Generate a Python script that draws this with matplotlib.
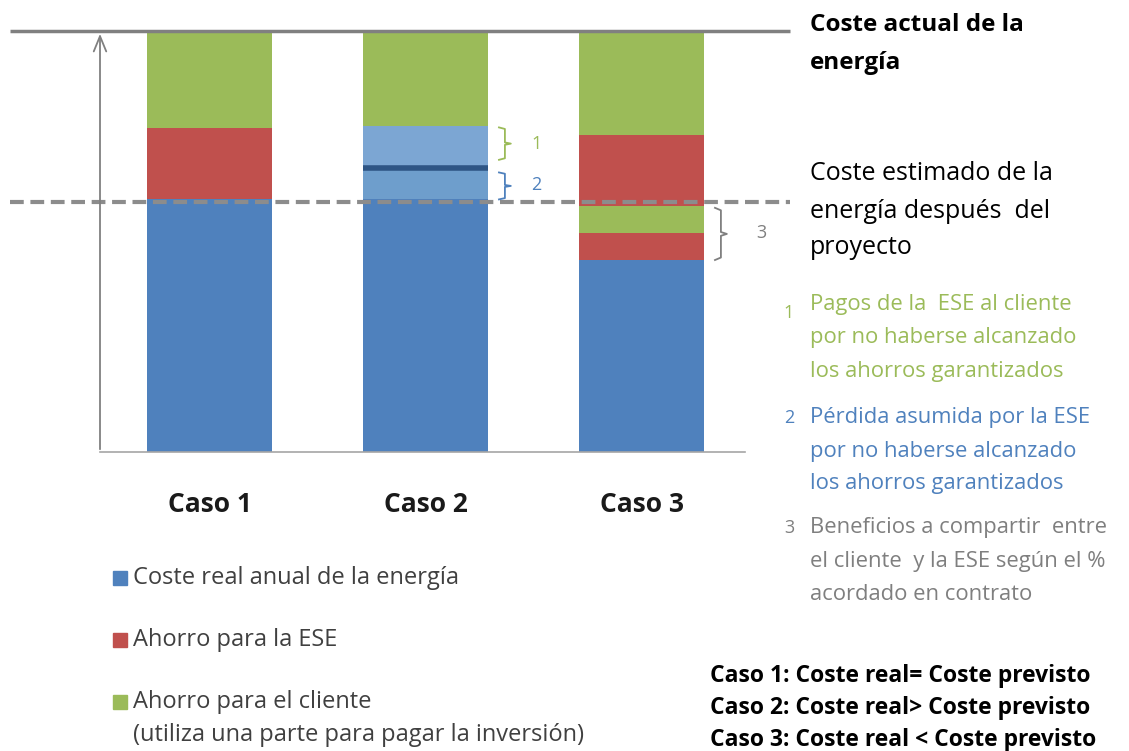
import matplotlib
matplotlib.use("Agg")
import matplotlib.pyplot as plt
from matplotlib.patches import Rectangle

plt.rcParams['font.family'] = ['Open Sans', 'DejaVu Sans']

# data (cost as % of current energy cost)
cases = ["Caso 1", "Caso 2", "Caso 3"]
caso1_vals = [60.0, 17.0, 23.0]
caso1_kind = ["real", "ese", "cliente"]
caso2_vals = [60.0, 7.4, 10.0, 22.6]
caso2_kind = ["real", "perdida", "pagos", "cliente"]
caso3_vals = [45.6, 6.4, 6.4, 17.0, 24.6]
caso3_kind = ["real", "ese", "cliente", "ese", "cliente"]
coste_actual = 100.0
coste_estimado = 59.3

legend_labels = ["Coste real anual de la energía", "Ahorro para la ESE",
                 "Ahorro para el cliente\n(utiliza una parte para pagar la inversión)"]
titulo_actual = ["Coste actual de la", "energía"]
titulo_estimado = ["Coste estimado de la", "energía después  del", "proyecto"]
nota1 = ["Pagos de la  ESE al cliente", "por no haberse alcanzado", "los ahorros garantizados"]
nota2 = ["Pérdida asumida por la ESE", "por no haberse alcanzado", "los ahorros garantizados"]
nota3 = ["Beneficios a compartir  entre", "el cliente  y la ESE según el %", "acordado en contrato"]
resumen = ["Caso 1: Coste real= Coste previsto",
           "Caso 2: Coste real> Coste previsto",
           "Caso 3: Coste real < Coste previsto"]

colors = {"real": "#4F81BD", "ese": "#C0504D", "cliente": "#9BBB59",
          "perdida": "#6E9ECC", "pagos": "#7CA6D3"}
GREEN_T = "#9BBB59"
BLUE_T = "#4F81BD"
GRAY_T = "#7F7F7F"

W, H = 1129, 751
fig = plt.figure(figsize=(W / 100, H / 100), dpi=100)
fig.patch.set_facecolor("white")


def fx(px):
    return px / W


def fy(py):
    return 1 - py / H


ax = fig.add_axes([fx(100), fy(452), (745 - 100) / W, (452 - 31) / H])
ax.set_xlim(-0.507, 2.479)
ax.set_ylim(0, coste_actual)
bw = 0.58

stacks = [(caso1_vals, caso1_kind), (caso2_vals, caso2_kind), (caso3_vals, caso3_kind)]
tops = []
for i, (vals, kinds) in enumerate(stacks):
    bottom = 0
    bounds = [0]
    for v, k in zip(vals, kinds):
        ax.bar(i, v, bottom=bottom, width=bw, color=colors[k], linewidth=0, zorder=2)
        bottom += v
        bounds.append(bottom)
    tops.append(bounds)

# dark line marking estimated cost in caso 2
ax.hlines(tops[1][2], 1 - bw / 2, 1 + bw / 2, color="#2E5585", lw=4, zorder=3)

# reference lines
ax.hlines(coste_actual, -0.924, 2.688, color="#808080", lw=2.5, clip_on=False, zorder=4)
ax.hlines(coste_estimado, -0.924, 2.688, color="#8C8C8C", lw=3,
          linestyles=(0, (3.3, 1.6)), clip_on=False, zorder=4)

for s in ["top", "right", "left"]:
    ax.spines[s].set_visible(False)
ax.spines["bottom"].set_color("#A6A6A6")
ax.spines["bottom"].set_linewidth(1.2)
ax.annotate("", xy=(0, 1), xytext=(0, 0), xycoords="axes fraction",
            arrowprops=dict(arrowstyle="->,head_length=1.1,head_width=0.45",
                            color="#808080", lw=1.3), zorder=5)
ax.set_yticks([])
ax.set_xticks(range(len(cases)))
ax.set_xticklabels(cases, fontsize=19, fontweight="bold", color="#1a1a1a")
ax.tick_params(axis="x", length=0, pad=28)


def brace(x, y0, y1, color, w=0.055):
    ym = (y0 + y1) / 2
    h = (y1 - y0) * 0.12
    xs = [x, x + w * 0.5, x + w * 0.5, x + w, x + w * 0.5, x + w * 0.5, x]
    ys = [y1, y1 - h * 0.4, ym + h * 0.3, ym, ym - h * 0.3, y0 + h * 0.4, y0]
    ax.plot(xs, ys, color=color, lw=1.3, clip_on=False, zorder=5)


brace(1 + bw / 2 + 0.05, tops[1][3] - 8.0, tops[1][3] - 0.3, GREEN_T)
brace(1 + bw / 2 + 0.05, tops[1][1], tops[1][2] - 1.0, BLUE_T)
brace(2 + bw / 2 + 0.05, tops[2][1], tops[2][3] - 0.4, GRAY_T)
ax.text(1 + bw / 2 + 0.2, tops[1][3] - 4.3, "1", color=GREEN_T, fontsize=13, va="center")
ax.text(1 + bw / 2 + 0.2, tops[1][1] + 3.4, "2", color=BLUE_T, fontsize=13, va="center")
ax.text(2 + bw / 2 + 0.24, (tops[2][1] + tops[2][3]) / 2, "3", color=GRAY_T, fontsize=13, va="center")

# right side titles
for j, line in enumerate(titulo_actual):
    fig.text(fx(810), fy(25 + 38 * j), line, fontsize=17.5, fontweight="bold",
             color="black", va="center")
for j, line in enumerate(titulo_estimado):
    fig.text(fx(810), fy(174 + 37 * j), line, fontsize=18, color="black", va="center")

for num, lines, col, y0, nx in [("1", nota1, GREEN_T, 305, 783), ("2", nota2, BLUE_T, 418, 784),
                                ("3", nota3, GRAY_T, 528, 784)]:
    fig.text(fx(nx), fy(y0 + (8 if num == "1" else 0)), num, fontsize=13, color=col, va="center")
    for j, line in enumerate(lines):
        fig.text(fx(810), fy(y0 + 33 * j), line, fontsize=15.8, color=col, va="center")

for j, line in enumerate(resumen):
    fig.text(fx(710), fy(676 + 32 * j), line, fontsize=16.5, fontweight="bold",
             color="black", va="center")

# legend
leg_colors = [colors["real"], colors["ese"], colors["cliente"]]
leg_y = [578, 640, 702]
for lab, c, y in zip(legend_labels, leg_colors, leg_y):
    fig.patches.append(Rectangle((fx(113), fy(y + 7)), 14 / W, 14 / H, color=c,
                                 transform=fig.transFigure, figure=fig))
    for j, line in enumerate(lab.split("\n")):
        fig.text(fx(133), fy(y + 33 * j), line, fontsize=17, color="#404040", va="center")

fig.savefig("out.png", dpi=100)
